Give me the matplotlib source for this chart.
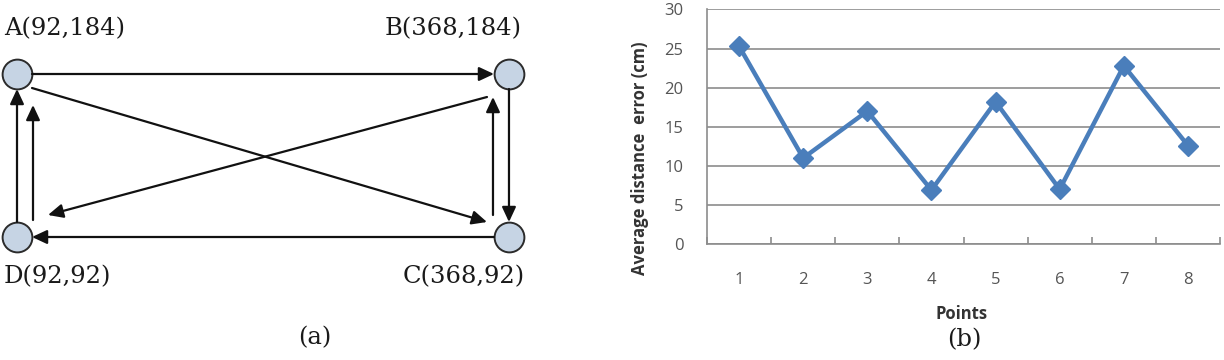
import numpy as np
import matplotlib.pyplot as plt

# (a) test layout: node coordinates and the directed paths between them
node_names = ["A", "B", "C", "D"]
node_x = [92, 368, 368, 92]
node_y = [184, 184, 92, 92]
edges = [("A", "B"), ("B", "C"), ("C", "D"), ("D", "A"),
         ("D", "A"), ("C", "B"), ("A", "C"), ("B", "D")]

# (b) average distance error per test point
points = [1, 2, 3, 4, 5, 6, 7, 8]
avg_error = [25.3, 11.0, 17.0, 6.9, 18.2, 7.0, 22.8, 12.6]
y_ticks = [0, 5, 10, 15, 20, 25, 30]

W, H = 1224, 360
fig = plt.figure(figsize=(W / 100, H / 100), dpi=100)

# --- (a) diagram ---
axa = fig.add_axes([0, 0, 540 / W, 1])
axa.set_xlim(82.46, 385.4)
axa.set_ylim(22.58, 225.77)
axa.axis("off")

pos = {n: (x, y) for n, x, y in zip(node_names, node_x, node_y)}
axa.scatter(node_x, node_y, s=460, c="#c6d4e4", edgecolors="#2b2b2b",
            linewidths=1.4, zorder=3)

# arrow end offsets in pixels (x right, y down) from the node centres
edge_offsets = [
    ((15, 0), (-15, 0)),
    ((0, 15), (0, -15)),
    ((-15, 0), (15, 0)),
    ((0, -15), (0, 15)),
    ((16, -17), (16, 31)),
    ((-16, -22), (-16, 23)),
    ((15, 14), (-22, -15)),
    ((-22, 23), (31, -22)),
]
for (src, dst), (o1, o2) in zip(edges, edge_offsets):
    p1 = axa.transData.transform(pos[src]) + np.array([o1[0], -o1[1]])
    p2 = axa.transData.transform(pos[dst]) + np.array([o2[0], -o2[1]])
    axa.annotate("", xy=p2, xytext=p1, xycoords="figure pixels",
                 textcoords="figure pixels",
                 arrowprops=dict(arrowstyle="-|>,head_length=0.6,head_width=0.28",
                                 color="#111111", lw=1.6, mutation_scale=15,
                                 shrinkA=0, shrinkB=0))

serif = "DejaVu Serif"
label_offsets = {"A": (-13, 45, "left"), "B": (13, 45, "right"),
                 "C": (16, -40, "right"), "D": (-13, -40, "left")}
for n, x, y in zip(node_names, node_x, node_y):
    dx, dy, ha = label_offsets[n]
    axa.annotate(f"{n}({x},{y})", xy=(x, y), xytext=(dx, dy),
                 textcoords="offset pixels", ha=ha, va="center",
                 fontsize=17.5, family=serif, color="#1a1a1a")

fig.text(315 / W, 1 - 338 / H, "(a)", ha="center", va="center",
         fontsize=17.5, family=serif, color="#1a1a1a")

# --- (b) line chart ---
axb = fig.add_axes([707 / W, 116 / H, 513 / W, 234.5 / H])
axb.plot(points, avg_error, color="#4a7ebb", lw=3.2, marker="D", ms=10,
         mec="#4a7ebb", mfc="#4a7ebb", zorder=3)
axb.set_xlim(0.5, 8.5)
axb.set_ylim(0, 30)
axb.set_yticks(y_ticks)
axb.set_xticks(points)
axb.set_xticks(np.arange(0.5, 9, 1), minor=True)
axb.yaxis.grid(True, color="#8c8c8c", lw=1.2)
axb.set_axisbelow(True)
for s in ["top", "right"]:
    axb.spines[s].set_visible(False)
for s in ["left", "bottom"]:
    axb.spines[s].set_color("#8c8c8c")
    axb.spines[s].set_linewidth(1.2)
axb.tick_params(axis="y", length=0, pad=17, labelsize=12, labelcolor="#555555")
axb.tick_params(axis="x", which="major", length=0, pad=20, labelsize=12,
                labelcolor="#555555")
axb.tick_params(axis="x", which="minor", direction="in", length=5,
                color="#8c8c8c", width=1.2)
for lab in axb.get_xticklabels() + axb.get_yticklabels():
    lab.set_family("Open Sans")

fig.text(640 / W, 1 - 158 / H, "Average distance  error (cm)", rotation=90,
         ha="center", va="center", fontsize=12, fontweight="bold",
         family="Open Sans", color="#333333")
fig.text(962 / W, 1 - 314 / H, "Points", ha="center", va="center",
         fontsize=12, fontweight="bold", family="Open Sans", color="#333333")
fig.text(964 / W, 1 - 340 / H, "(b)", ha="center", va="center",
         fontsize=17.5, family=serif, color="#1a1a1a")

fig.savefig("out.png", dpi=100)
